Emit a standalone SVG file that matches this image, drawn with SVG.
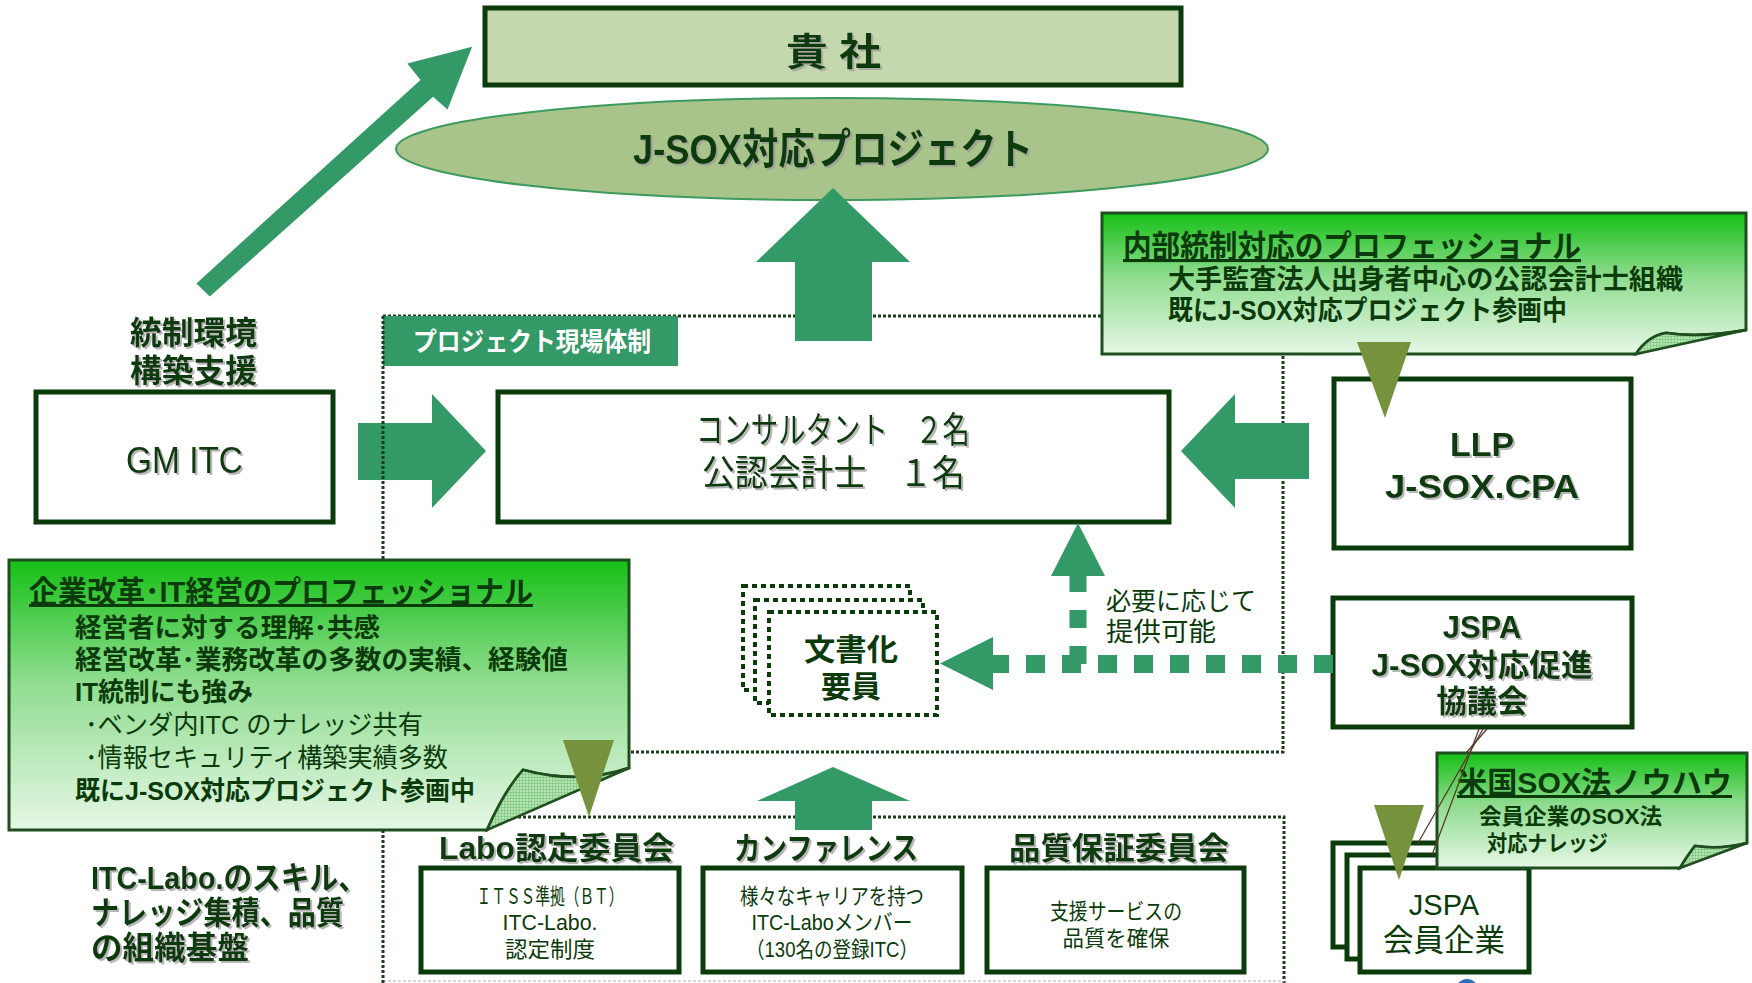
<svg xmlns="http://www.w3.org/2000/svg" width="1752" height="983" viewBox="0 0 1752 983">
<style>
.t{font-family:'Liberation Sans','Noto Sans CJK JP',sans-serif;fill:#0b3a0b}
.b{font-weight:bold}
.box{fill:#fff;stroke:#0b3a0b;stroke-width:5}
.arrow{fill:#339966}
.olive{fill:#76923c}
.dot{fill:none;stroke:#1c3c1c;stroke-width:3;stroke-dasharray:3 2}
.dbox{fill:#fff;stroke:#0b3a0b;stroke-width:4;stroke-dasharray:5 4}
.callout{fill:url(#cg);stroke:#1f4f1f;stroke-width:3}
.fold{fill:url(#chk);stroke:#1f4f1f;stroke-width:2.5}
.sh{filter:url(#sh)}
</style>
<defs>
<linearGradient id="cg" x1="0" y1="0" x2="0" y2="1">
<stop offset="0" stop-color="#16c016"/>
<stop offset="0.45" stop-color="#8fdc8f"/>
<stop offset="1" stop-color="#e6f7e6"/>
</linearGradient>
<pattern id="chk" patternUnits="userSpaceOnUse" width="3" height="3">
<rect width="3" height="3" fill="#b5e3b5"/>
<path d="M0 0H3M0 0V3" stroke="#4fae4f" stroke-width="0.7"/>
</pattern>
<filter id="sh" x="-5%" y="-10%" width="115%" height="140%">
<feDropShadow dx="2" dy="2" stdDeviation="0.6" flood-color="#999" flood-opacity="0.7"/>
</filter>
</defs>

<g id="frames">
<path class="dot" d="M383,316 H1283 V752 H383"/>
<path class="dot" d="M383,817 H1284 V983"/>
<path d="M383,981 H1284" fill="none" stroke="#d8d8d8" stroke-width="2" stroke-dasharray="3 2"/>
</g>

<g id="genba-label">
<rect x="383" y="316" width="295" height="50" fill="#339966"/>
<text class="t b" x="413" y="351" font-size="26" textLength="238" lengthAdjust="spacingAndGlyphs" style="fill:#fff">プロジェクト現場体制</text>
</g>

<g id="kisha">
<rect x="485" y="8" width="696" height="77" fill="#c4d7ad" stroke="#0b3a0b" stroke-width="5"/>
<text class="t b sh" x="786" y="65" font-size="38" textLength="95" lengthAdjust="spacingAndGlyphs" xml:space="preserve">貴 社</text>
</g>

<g id="project">
<ellipse cx="832" cy="149" rx="436" ry="51" fill="#a8c48a" stroke="#3d9a5e" stroke-width="2"/>
<text class="t b sh" x="633" y="164" font-size="42" textLength="400" lengthAdjust="spacingAndGlyphs">J-SOX対応プロジェクト</text>
</g>

<g id="gmitc">
<text class="t b sh" x="130" y="344" font-size="32" textLength="127" lengthAdjust="spacingAndGlyphs">統制環境</text>
<text class="t b sh" x="130" y="382" font-size="32" textLength="127" lengthAdjust="spacingAndGlyphs">構築支援</text>
<rect class="box" x="36" y="392" width="297" height="130"/>
<text class="t sh" x="126" y="473" font-size="36" textLength="117" lengthAdjust="spacingAndGlyphs">GM ITC</text>
</g>

<g id="consultant">
<rect class="box" x="498" y="392" width="671" height="130"/>
<text class="t sh" x="696" y="443" font-size="36" textLength="274" lengthAdjust="spacingAndGlyphs">コンサルタント　２名</text>
<text class="t sh" x="702" y="486" font-size="36" textLength="263" lengthAdjust="spacingAndGlyphs">公認会計士　１名</text>
</g>

<g id="llp">
<rect class="box" x="1334" y="379" width="297" height="169"/>
<text class="t b sh" x="1482" y="456" font-size="34" text-anchor="middle">LLP</text>
<text class="t b sh" x="1482" y="498" font-size="34" text-anchor="middle" textLength="194" lengthAdjust="spacingAndGlyphs">J-SOX.CPA</text>
</g>

<g id="jspa">
<rect class="box" x="1333" y="598" width="299" height="129"/>
<text class="t b sh" x="1482" y="638" font-size="31" text-anchor="middle">JSPA</text>
<text class="t b sh" x="1482" y="676" font-size="31" text-anchor="middle" textLength="221" lengthAdjust="spacingAndGlyphs">J-SOX対応促進</text>
<text class="t b sh" x="1482" y="712" font-size="31" text-anchor="middle" textLength="91" lengthAdjust="spacingAndGlyphs">協議会</text>
</g>

<g id="bunsho">
<rect class="dbox" x="743" y="586" width="167" height="104"/>
<rect class="dbox" x="755" y="600" width="168" height="103"/>
<rect class="dbox" x="769" y="612" width="168" height="103"/>
<text class="t b" x="851" y="660" font-size="30" text-anchor="middle" textLength="94" lengthAdjust="spacingAndGlyphs">文書化</text>
<text class="t b" x="851" y="697" font-size="30" text-anchor="middle">要員</text>
<text class="t" x="1106" y="610" font-size="25" textLength="150" lengthAdjust="spacingAndGlyphs">必要に応じて</text>
<text class="t" x="1106" y="641" font-size="26" textLength="110" lengthAdjust="spacingAndGlyphs">提供可能</text>
</g>

<g id="labo">
<text class="t b sh" x="439" y="859" font-size="31" textLength="235" lengthAdjust="spacingAndGlyphs">Labo認定委員会</text>
<rect class="box" x="421" y="868" width="258" height="104"/>
<text class="t" x="550" y="904" font-size="22" text-anchor="middle" textLength="147" lengthAdjust="spacingAndGlyphs">ＩＴＳＳ準拠（ＢＴ）</text>
<text class="t" x="550" y="930" font-size="22" text-anchor="middle" textLength="95" lengthAdjust="spacingAndGlyphs">ITC-Labo.</text>
<text class="t" x="550" y="957" font-size="22" text-anchor="middle" textLength="90" lengthAdjust="spacingAndGlyphs">認定制度</text>
</g>

<g id="conference">
<text class="t b sh" x="734" y="859" font-size="31" textLength="184" lengthAdjust="spacingAndGlyphs">カンファレンス</text>
<rect class="box" x="703" y="868" width="259" height="104"/>
<text class="t" x="832" y="904" font-size="22" text-anchor="middle" textLength="184" lengthAdjust="spacingAndGlyphs">様々なキャリアを持つ</text>
<text class="t" x="832" y="930" font-size="22" text-anchor="middle" textLength="161" lengthAdjust="spacingAndGlyphs">ITC-Laboメンバー</text>
<text class="t" x="832" y="957" font-size="22" text-anchor="middle" textLength="172" lengthAdjust="spacingAndGlyphs">（130名の登録ITC）</text>
</g>

<g id="quality">
<text class="t b sh" x="1009" y="859" font-size="31" textLength="220" lengthAdjust="spacingAndGlyphs">品質保証委員会</text>
<rect class="box" x="987" y="868" width="257" height="104"/>
<text class="t" x="1116" y="919" font-size="22" text-anchor="middle" textLength="132" lengthAdjust="spacingAndGlyphs">支援サービスの</text>
<text class="t" x="1116" y="946" font-size="22" text-anchor="middle" textLength="107" lengthAdjust="spacingAndGlyphs">品質を確保</text>
</g>

<g id="itclabo">
<text class="t b sh" x="91" y="889" font-size="32" textLength="276" lengthAdjust="spacingAndGlyphs">ITC-Labo.のスキル、</text>
<text class="t b sh" x="91" y="924" font-size="32" textLength="253" lengthAdjust="spacingAndGlyphs">ナレッジ集積、品質</text>
<text class="t b sh" x="91" y="959" font-size="32" textLength="158" lengthAdjust="spacingAndGlyphs">の組織基盤</text>
</g>

<g id="jspa-members">
<rect class="box" x="1333" y="843" width="169" height="104" stroke-width="4.5"/>
<rect class="box" x="1347" y="855" width="169" height="104" stroke-width="4.5"/>
<rect class="box" x="1360" y="868" width="169" height="104" stroke-width="4.5"/>
<text class="t" x="1444" y="915" font-size="29" text-anchor="middle">JSPA</text>
<text class="t" x="1444" y="951" font-size="31" text-anchor="middle" textLength="122" lengthAdjust="spacingAndGlyphs">会員企業</text>
<ellipse cx="1467" cy="992" rx="12" ry="13" fill="#2a6fc0"/>
</g>

<g id="callout-naibu">
<path class="callout" d="M1102,213 H1746 V330 Q1700,338 1666,333 Q1648,336 1636,354 H1102 Z"/>
<path class="fold" d="M1636,354 Q1648,336 1666,333 Q1700,338 1746,330 Z"/>
<text class="t b" x="1123" y="257" font-size="31" textLength="458" lengthAdjust="spacingAndGlyphs" text-decoration="underline">内部統制対応のプロフェッショナル</text>
<text class="t b" x="1168" y="289" font-size="27" textLength="515" lengthAdjust="spacingAndGlyphs">大手監査法人出身者中心の公認会計士組織</text>
<text class="t b" x="1168" y="320" font-size="27" textLength="399" lengthAdjust="spacingAndGlyphs">既にJ-SOX対応プロジェクト参画中</text>
</g>

<g id="callout-kigyo">
<path class="callout" d="M9,560 H629 V768 Q580,785 523,770 Q505,790 487,830 H9 Z"/>
<path class="fold" d="M487,830 Q505,790 523,770 Q580,785 629,768 Z"/>
<text class="t b" x="29" y="602" font-size="30" textLength="504" lengthAdjust="spacingAndGlyphs" text-decoration="underline">企業改革･IT経営のプロフェッショナル</text>
<text class="t b" x="75" y="637" font-size="26" textLength="305" lengthAdjust="spacingAndGlyphs">経営者に対する理解･共感</text>
<text class="t b" x="75" y="669" font-size="26" textLength="493" lengthAdjust="spacingAndGlyphs">経営改革･業務改革の多数の実績、経験値</text>
<text class="t b" x="75" y="701" font-size="26" textLength="178" lengthAdjust="spacingAndGlyphs">IT統制にも強み</text>
<text class="t" x="85" y="734" font-size="26" textLength="338" lengthAdjust="spacingAndGlyphs">･ベンダ内ITC のナレッジ共有</text>
<text class="t" x="85" y="767" font-size="26" textLength="363" lengthAdjust="spacingAndGlyphs">･情報セキュリティ構築実績多数</text>
<text class="t b" x="75" y="800" font-size="26" textLength="400" lengthAdjust="spacingAndGlyphs">既にJ-SOX対応プロジェクト参画中</text>
</g>

<g id="callout-sox">
<path class="callout" d="M1437,753 H1747 V843 Q1720,850 1695,846 Q1688,855 1680,868 H1437 Z"/>
<path class="fold" d="M1680,868 Q1688,855 1695,846 Q1720,850 1747,843 Z"/>
<text class="t b" x="1457" y="793" font-size="30" textLength="275" lengthAdjust="spacingAndGlyphs" text-decoration="underline">米国SOX法ノウハウ</text>
<text class="t b" x="1479" y="824" font-size="22" textLength="183" lengthAdjust="spacingAndGlyphs">会員企業のSOX法</text>
<text class="t b" x="1487" y="851" font-size="22" textLength="121" lengthAdjust="spacingAndGlyphs">対応ナレッジ</text>
</g>

<g id="connectors">
<polygon class="arrow" points="196.4,283.4 420.5,80 407.3,63.4 472.1,46.7 447.5,109.4 433.1,96.7 209.8,296.6"/>
<polygon class="arrow" points="795,341 795,262 756,262 833,188 910,262 872,262 872,341"/>
<polygon class="arrow" points="795,830 795,801 757,801 833,767 910,801 872,801 872,830"/>
<polygon class="arrow" points="358,423 432,423 432,394 486,451 432,508 432,480 358,480"/>
<polygon class="arrow" points="1309,423 1235,423 1235,394 1181,451 1235,508 1235,479 1309,479"/>
<line x1="1333" y1="664" x2="993" y2="664" stroke="#339966" stroke-width="18" stroke-dasharray="19 17"/>
<polygon class="arrow" points="993,637 940,663.5 993,690"/>
<line x1="1078" y1="664" x2="1078" y2="575" stroke="#339966" stroke-width="17" stroke-dasharray="18 18"/>
<polygon class="arrow" points="1051,576 1078,523 1105,576"/>
<polygon class="olive" points="1357,342 1411,342 1385,418"/>
<polygon class="olive" points="563,740 614,740 589,817"/>
<polygon class="olive" points="1374,805 1424,805 1399,880"/>
<g stroke="#5a3a2a" stroke-width="1.3">
<line x1="1483" y1="729" x2="1418" y2="843"/>
<line x1="1479" y1="729" x2="1432" y2="855"/>
<line x1="1487" y1="729" x2="1466" y2="753"/>
</g>
</g>

<g id="frame-left">
<path class="dot" d="M383,316 V560 M383,830 V983"/>
</g>
</svg>
